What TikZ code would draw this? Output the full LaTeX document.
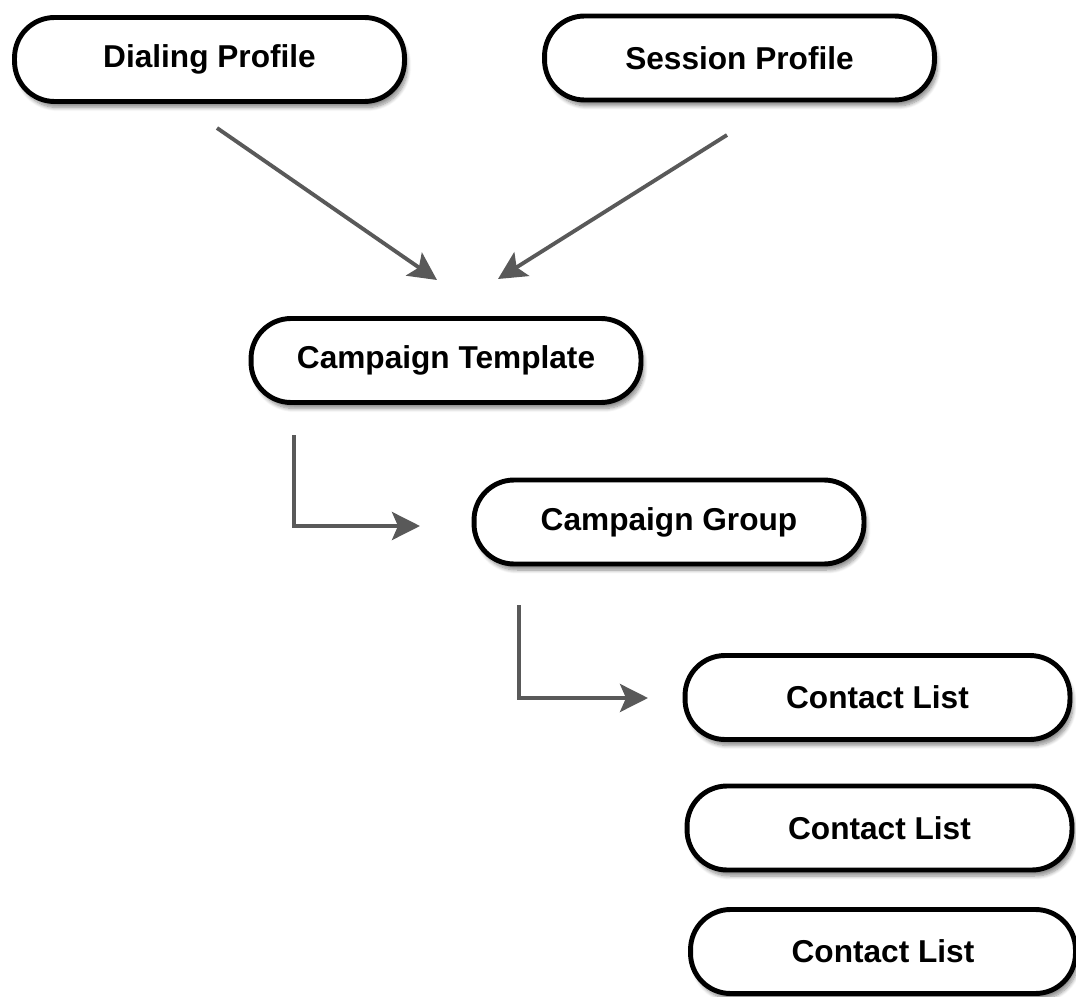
\documentclass[tikz,border=0pt]{standalone}
\usepackage{fontspec}
\setmainfont{Liberation Sans}
\usetikzlibrary{arrows.meta,shadows.blur}
\definecolor{arrowgray}{HTML}{595959}
\tikzset{
    pill/.style={draw, line width=2.8pt, rounded corners=0.8cm, fill=white,
        minimum width=7.8cm, minimum height=1.68cm,
        font=\bfseries\fontsize{18}{20}\selectfont,
        blur shadow={shadow xshift=0.6mm, shadow yshift=-1.2mm,
            shadow blur steps=8, shadow opacity=45}},
    link/.style={draw=arrowgray, line width=2.2pt,
        -{Stealth[length=0.56cm, width=0.56cm, inset=0.12cm]}}
}
\begin{document}
\begin{tikzpicture}[x=0.02cm, y=-0.02cm]
        \useasboundingbox (0, 0) rectangle (1076, 997);
        \node [pill] (dial)     at (209.5, 59.5) {Dialing Profile};
        \node [pill] (session)  at (739.5, 58)   {Session Profile};
        \node [pill] (template) at (446, 360.5)  {Campaign Template};
        \node [pill] (group)    at (669, 522)    {Campaign Group};
        \node [pill, minimum width=7.7cm] (list1) at (877.5, 697.5) {Contact List};
        \node [pill, minimum width=7.7cm] (list2) at (879.5, 828)   {Contact List};
        \node [pill, minimum width=7.7cm] (list3) at (883, 951.5)   {Contact List};
        \coordinate (d0) at (217, 128);  \coordinate (d1) at (437, 280);
        \coordinate (s0) at (727, 135);  \coordinate (s1) at (498, 279);
        \coordinate (t0) at (294, 435);  \coordinate (t1) at (420, 526);
        \coordinate (g0) at (519, 605);  \coordinate (g1) at (648, 698);
        \draw[link] (d0) -- (d1);
        \draw[link] (s0) -- (s1);
        \draw[link] (t0) |- (t1);
        \draw[link] (g0) |- (g1);
    \end{tikzpicture}
\end{document}
